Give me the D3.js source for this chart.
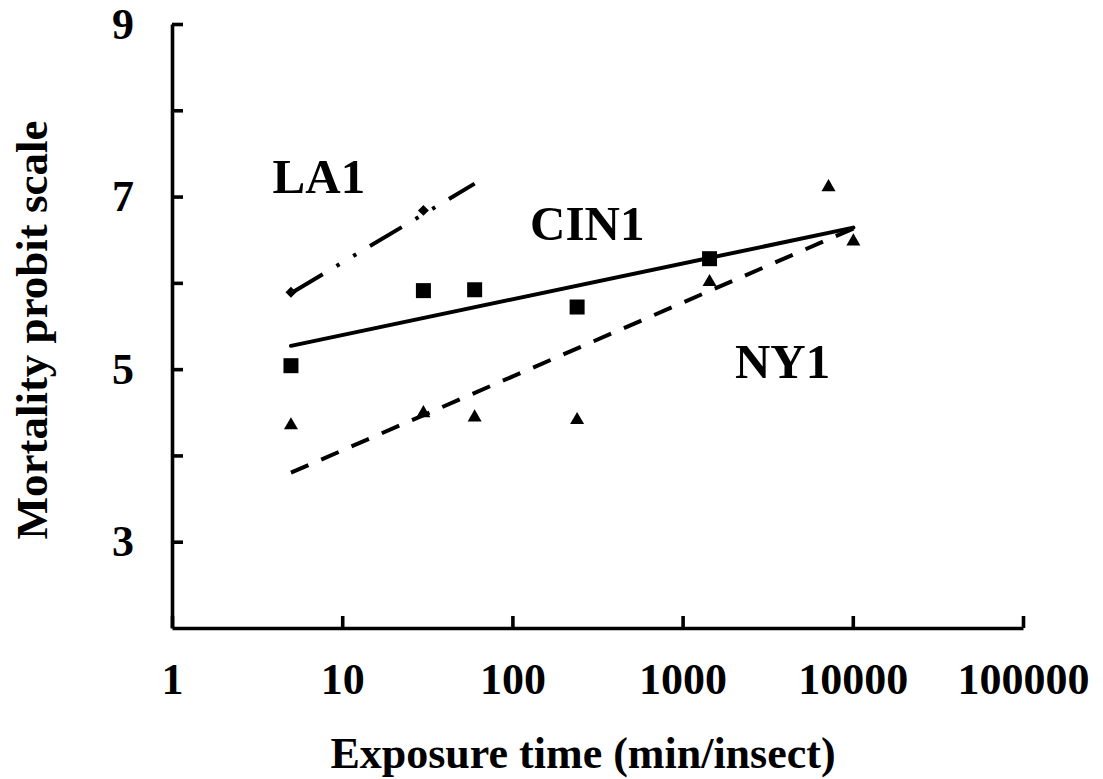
<!DOCTYPE html>
<html>
<head>
<meta charset="utf-8">
<script src="https://cdn.jsdelivr.net/npm/d3@7"></script>
<style>
  html, body { margin: 0; padding: 0; background: #fff; }
  svg { display: block; }
  text { font-family: "Liberation Serif", "Times New Roman", serif; font-weight: bold; fill: #000; }
</style>
</head>
<body>
<svg id="chart" width="1103" height="779"></svg>
<script>
// Observed mortality (probit units) by exposure time (minutes per insect)
const la1Points  = [[5, 5.89], [30, 6.84]];
const cin1Points = [[5, 5.04], [30, 5.91], [60, 5.92], [240, 5.72], [1440, 6.28]];
const ny1Points  = [[5, 4.35], [30, 4.49], [60, 4.44], [240, 4.41], [1440, 6.01], [7200, 7.11], [10080, 6.48]];

// Fitted probit regression lines (end points)
const la1Fit  = [[5, 5.88], [60, 7.15]];
const cin1Fit = [[5, 5.27], [10080, 6.64]];
const ny1Fit  = [[5, 3.80], [10080, 6.63]];

// Axis ticks
const xTicks = [1, 10, 100, 1000, 10000, 100000];
const yTicks = [3, 4, 5, 6, 7, 8, 9];
const yLabelled = [3, 5, 7, 9];

// Strain labels placed in data coordinates
const strainLabels = [
  { text: "LA1",  x: 3.9,  y: 7.04 },
  { text: "CIN1", x: 127,  y: 6.50 },
  { text: "NY1",  x: 2030, y: 4.90 }
];

const svg = d3.select("#chart");

const x = d3.scaleLog().domain([1, 100000]).range([172, 1023]);
const y = d3.scaleLinear().domain([2, 9]).range([628, 24]);

// Y axis: ticks point inward, labels on odd values only
const yAxis = svg.append("g")
  .attr("transform", "translate(172,0)")
  .call(d3.axisLeft(y)
    .tickValues(yTicks)
    .tickSizeInner(-11)
    .tickSizeOuter(0)
    .tickPadding(38)
    .tickFormat(d => yLabelled.includes(d) ? d3.format("d")(d) : ""));

// X axis: log decades, ticks pointing up
const xAxis = svg.append("g")
  .attr("transform", "translate(0,628)")
  .call(d3.axisBottom(x)
    .tickValues(xTicks)
    .tickSizeInner(-12)
    .tickSizeOuter(0)
    .tickPadding(35)
    .tickFormat(d3.format("d")));

[yAxis, xAxis].forEach(g => {
  g.select(".domain").attr("stroke", "#000").attr("stroke-width", 3.6);
  g.selectAll(".tick line").attr("stroke", "#000").attr("stroke-width", 3.6);
  g.selectAll(".tick text")
    .attr("font-family", "'Liberation Serif', 'Times New Roman', serif")
    .attr("font-weight", "bold")
    .attr("font-size", 44)
    .attr("fill", "#000");
});

// Axis titles
svg.append("text")
  .attr("x", 583).attr("y", 768)
  .attr("text-anchor", "middle")
  .attr("font-size", 44)
  .text("Exposure time (min/insect)");

svg.append("text")
  .attr("transform", "translate(47,330) rotate(-90)")
  .attr("text-anchor", "middle")
  .attr("font-size", 45)
  .text("Mortality probit scale");

// Regression lines
const line = d3.line().x(d => x(d[0])).y(d => y(d[1]));

svg.append("path").datum(la1Fit)
  .attr("d", line)
  .attr("fill", "none").attr("stroke", "#000").attr("stroke-width", 4)
  .attr("stroke-dasharray", "37,16,3.5,16,3.5,16");

svg.append("path").datum(cin1Fit)
  .attr("d", line)
  .attr("fill", "none").attr("stroke", "#000").attr("stroke-width", 4)
  .attr("stroke-linecap", "round");

svg.append("path").datum(ny1Fit)
  .attr("d", line)
  .attr("fill", "none").attr("stroke", "#000").attr("stroke-width", 4)
  .attr("stroke-dasharray", "19,14");

// Markers
const diamond = d3.symbol().type(d3.symbolSquare).size(60);
svg.append("g").selectAll("path").data(la1Points).join("path")
  .attr("d", diamond)
  .attr("transform", d => `translate(${x(d[0])},${y(d[1])}) rotate(45)`)
  .attr("fill", "#000");

const square = d3.symbol().type(d3.symbolSquare).size(225);
svg.append("g").selectAll("path").data(cin1Points).join("path")
  .attr("d", square)
  .attr("transform", d => `translate(${x(d[0])},${y(d[1])})`)
  .attr("fill", "#000");

const triangle = d3.symbol().type(d3.symbolTriangle).size(85);
svg.append("g").selectAll("path").data(ny1Points).join("path")
  .attr("d", triangle)
  .attr("transform", d => `translate(${x(d[0])},${y(d[1])})`)
  .attr("fill", "#000");

// Strain labels
svg.append("g").selectAll("text").data(strainLabels).join("text")
  .attr("x", d => x(d.x))
  .attr("y", d => y(d.y))
  .attr("font-size", 49)
  .text(d => d.text);
</script>
</body>
</html>
